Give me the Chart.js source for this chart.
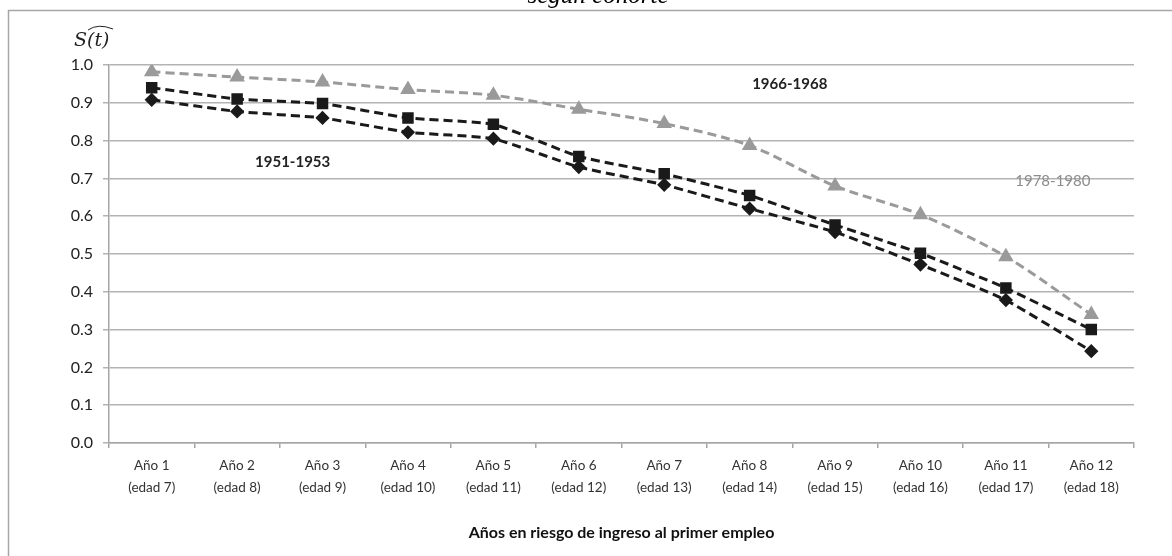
<!DOCTYPE html>
<html>
<head>
<meta charset="utf-8">
<script src="https://cdn.jsdelivr.net/npm/chart.js@4"></script>
<style>
  body { margin: 0; background: #fff; }
  #wrap { width: 1172px; height: 556px; position: relative; }
</style>
</head>
<body>
<div id="wrap"><canvas id="myChart" width="1172" height="556"></canvas></div>
<script>
// categories and series
const years = ['Año 1', 'Año 2', 'Año 3', 'Año 4', 'Año 5', 'Año 6', 'Año 7', 'Año 8', 'Año 9', 'Año 10', 'Año 11', 'Año 12'];
const ages = ['(edad 7)', '(edad 8)', '(edad 9)', '(edad 10)', '(edad 11)', '(edad 12)', '(edad 13)', '(edad 14)', '(edad 15)', '(edad 16)', '(edad 17)', '(edad 18)'];
const cohort1951 = [0.908, 0.877, 0.860, 0.822, 0.805, 0.730, 0.683, 0.620, 0.558, 0.472, 0.378, 0.243];
const cohort1966 = [0.940, 0.910, 0.898, 0.860, 0.843, 0.758, 0.712, 0.655, 0.577, 0.502, 0.410, 0.300];
const cohort1978 = [0.982, 0.968, 0.955, 0.935, 0.920, 0.883, 0.845, 0.787, 0.680, 0.604, 0.493, 0.340];
const yTicks = [0, 0.1, 0.2, 0.3, 0.4, 0.5, 0.6, 0.7, 0.8, 0.9, 1.0];

const labels = years.map((y, i) => [y, ages[i]]);
const FONT = 'Lato, "Open Sans", sans-serif';

// frame, cut title, S(t) label and cohort names
const extras = {
  id: 'extras',
  beforeDraw(chart) {
    const c = chart.ctx;
    c.save();
    c.fillStyle = '#fff';
    c.fillRect(0, 0, chart.width, chart.height);
    c.strokeStyle = '#a6a6a6';
    c.lineWidth = 1.5;
    c.beginPath();
    c.moveTo(8.5, 556);
    c.lineTo(8.5, 10.5);
    c.lineTo(1172, 10.5);
    c.stroke();
    c.fillStyle = '#000';
    c.font = 'italic 25px "Liberation Serif", serif';
    c.textAlign = 'center';
    c.textBaseline = 'alphabetic';
    c.fillText('según cohorte', 598, 3);
    c.restore();
  },
  afterDraw(chart) {
    const c = chart.ctx;
    const xs = chart.scales.x, ys = chart.scales.y;
    c.save();
    // S(t) with wide hat
    c.fillStyle = '#222';
    c.font = 'italic 19px "DejaVu Serif", serif';
    c.textAlign = 'left';
    c.textBaseline = 'alphabetic';
    c.fillText('S(t)', 74, 46);
    c.strokeStyle = '#222';
    c.lineWidth = 1;
    c.beginPath();
    c.moveTo(88, 30);
    c.quadraticCurveTo(98, 23, 113, 29);
    c.stroke();
    // cohort names
    c.textAlign = 'center';
    c.textBaseline = 'middle';
    c.font = 'bold 15px ' + FONT;
    c.fillStyle = '#222';
    c.fillText('1966-1968', xs.getPixelForValue(7.47), ys.getPixelForValue(0.95));
    c.fillText('1951-1953', xs.getPixelForValue(1.65), ys.getPixelForValue(0.742));
    c.font = '15px ' + FONT;
    c.fillStyle = '#8c8c8c';
    c.fillText('1978-1980', xs.getPixelForValue(10.55), ys.getPixelForValue(0.693));
    c.restore();
  }
};

const ctx = document.getElementById('myChart').getContext('2d');
const myChart = new Chart(ctx, {
  type: 'line',
  data: {
    labels: labels,
    datasets: [
      {
        label: '1978-1980',
        data: cohort1978,
        borderColor: '#9a9a9a',
        backgroundColor: '#9a9a9a',
        borderWidth: 3,
        borderDash: [9, 5],
        pointStyle: 'triangle',
        pointRadius: 6,
        tension: 0.3
      },
      {
        label: '1966-1968',
        data: cohort1966,
        borderColor: '#1a1a1a',
        backgroundColor: '#1a1a1a',
        borderWidth: 3,
        borderDash: [9, 5],
        pointStyle: 'rect',
        pointRadius: 6,
        tension: 0.15
      },
      {
        label: '1951-1953',
        data: cohort1951,
        borderColor: '#1a1a1a',
        backgroundColor: '#1a1a1a',
        borderWidth: 3,
        borderDash: [9, 5],
        pointStyle: 'rectRot',
        pointRadius: 5,
        tension: 0.15
      }
    ]
  },
  options: {
    responsive: false,
    animation: false,
    layout: { padding: { left: 0, right: 38, top: 65, bottom: 0 } },
    plugins: { legend: { display: false }, tooltip: { enabled: false } },
    scales: {
      x: {
        offset: true,
        grid: { offset: true, drawOnChartArea: false, color: '#a6a6a6', tickLength: 5, lineWidth: 1.5 },
        border: { color: '#a6a6a6', width: 1.5 },
        ticks: { color: '#333', font: { family: FONT, size: 13.5, lineHeight: 1.6 }, maxRotation: 0, padding: 7 },
        title: {
          display: true,
          text: 'Años en riesgo de ingreso al primer empleo',
          color: '#111',
          font: { family: FONT, size: 16, weight: 'bold' },
          padding: { top: 0, bottom: 14 }
        },
        afterFit: s => { s.height = 113; }
      },
      y: {
        min: 0,
        max: 1,
        afterBuildTicks: s => { s.ticks = yTicks.map(v => ({ value: v })); },
        grid: { color: '#b3b3b3', lineWidth: 1.5, tickLength: 6 },
        border: { color: '#a6a6a6', width: 1.5 },
        ticks: { color: '#222', font: { family: FONT, size: 16 }, padding: 10, callback: v => v.toFixed(1) },
        afterFit: s => { s.width = 109; }
      }
    }
  },
  plugins: [extras]
});
</script>
</body>
</html>
